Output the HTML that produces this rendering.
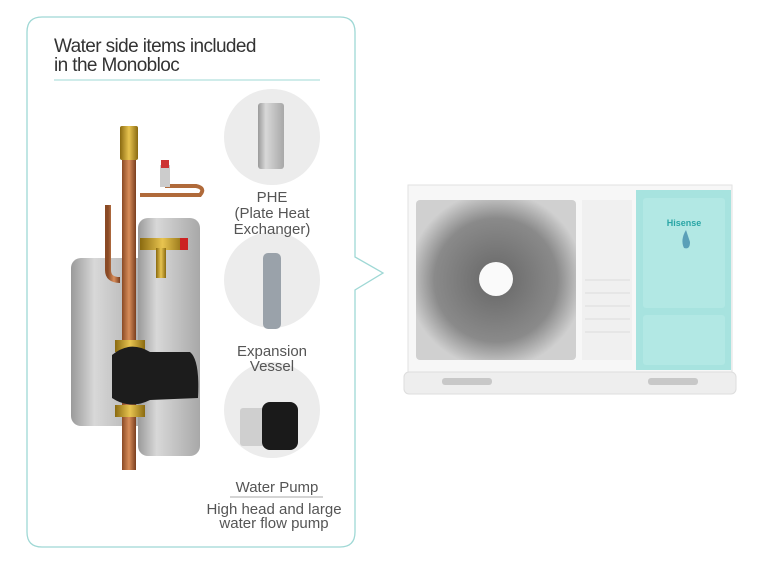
<!DOCTYPE html>
<html><head><style>
html,body{margin:0;padding:0;background:#fff;}
svg{display:block;}
text{font-family:"Liberation Sans",sans-serif;}
</style></head><body>
<svg width="782" height="566" viewBox="0 0 782 566">
<defs>
<linearGradient id="cu" x1="0" x2="1"><stop offset="0" stop-color="#8a4a25"/><stop offset=".5" stop-color="#d88d5a"/><stop offset="1" stop-color="#7a3e1e"/></linearGradient>
<linearGradient id="pl" x1="0" x2="1"><stop offset="0" stop-color="#9a9a9a"/><stop offset=".3" stop-color="#d8d8d8"/><stop offset="1" stop-color="#a8a8a8"/></linearGradient>
<linearGradient id="br" x1="0" x2="1"><stop offset="0" stop-color="#8a6a10"/><stop offset=".5" stop-color="#e8c450"/><stop offset="1" stop-color="#8a6a10"/></linearGradient>
<radialGradient id="fan" cx=".5" cy=".5" r=".55"><stop offset="0" stop-color="#666"/><stop offset=".7" stop-color="#8a8a8a"/><stop offset="1" stop-color="#d0d0d0"/></radialGradient>
</defs>
<path d="M42 17 H340 Q355 17 355 32 V257 L383 273 L355 290 V532 Q355 547 340 547 H42 Q27 547 27 532 V32 Q27 17 42 17 Z" fill="#fff" stroke="#9fd8d5" stroke-width="1.3"/>
<text x="54" y="52" font-size="19" fill="#333" letter-spacing="-0.6">Water side items included</text>
<text x="54" y="71" font-size="19" fill="#333" letter-spacing="-0.6">in the Monobloc</text>
<line x1="54" y1="80" x2="320" y2="80" stroke="#9fd8d5" stroke-width="1"/>
<circle cx="272" cy="137" r="48" fill="#ececec"/>
<rect x="258" y="103" width="26" height="66" rx="3" fill="url(#pl)"/>
<circle cx="272" cy="280" r="48" fill="#ececec"/>
<rect x="263" y="253" width="18" height="76" rx="5" fill="#9aa2aa"/>
<circle cx="272" cy="410" r="48" fill="#ececec"/>
<rect x="240" y="408" width="30" height="38" rx="3" fill="#cfcfcf"/>
<rect x="262" y="402" width="36" height="48" rx="8" fill="#1a1a1a"/>
<text x="272" y="202" font-size="15" fill="#555" text-anchor="middle">PHE</text>
<text x="272" y="218" font-size="15" fill="#555" text-anchor="middle">(Plate Heat</text>
<text x="272" y="234" font-size="15" fill="#555" text-anchor="middle">Exchanger)</text>
<text x="272" y="356" font-size="15" fill="#555" text-anchor="middle">Expansion</text>
<text x="272" y="371" font-size="15" fill="#555" text-anchor="middle">Vessel</text>
<text x="277" y="492" font-size="15" fill="#555" text-anchor="middle">Water Pump</text>
<line x1="230" y1="497" x2="323" y2="497" stroke="#aaa" stroke-width="1"/>
<text x="274" y="514" font-size="15" fill="#555" text-anchor="middle">High head and large</text>
<text x="274" y="528" font-size="15" fill="#555" text-anchor="middle">water flow pump</text>
<rect x="71" y="258" width="78" height="168" rx="10" fill="url(#pl)"/>
<rect x="138" y="218" width="62" height="238" rx="10" fill="url(#pl)"/>
<path d="M108 205 V270 Q108 280 120 280" stroke="url(#cu)" stroke-width="6" fill="none"/>
<path d="M140 195 H200 Q206 188 196 186 H165" stroke="#b06a3a" stroke-width="4" fill="none"/>
<rect x="160" y="165" width="10" height="22" fill="#ccc"/>
<rect x="161" y="160" width="8" height="8" fill="#c33"/>
<rect x="140" y="238" width="45" height="12" fill="url(#br)"/>
<rect x="180" y="238" width="8" height="12" fill="#c22"/>
<rect x="156" y="248" width="10" height="30" fill="url(#br)"/>
<rect x="122" y="155" width="14" height="315" fill="url(#cu)"/>
<rect x="120" y="126" width="18" height="34" rx="2" fill="url(#br)"/>
<rect x="115" y="340" width="30" height="12" fill="url(#br)"/>
<rect x="115" y="405" width="30" height="12" fill="url(#br)"/>
<path d="M112 355 Q130 340 150 352 L190 352 Q200 360 198 398 L150 400 Q130 410 112 398 Z" fill="#1c1c1c"/>
<rect x="408" y="185" width="324" height="188" fill="#f7f7f7" stroke="#e2e2e2"/>
<rect x="416" y="200" width="160" height="160" rx="4" fill="url(#fan)"/>
<circle cx="496" cy="279" r="17" fill="#fafafa"/>
<rect x="582" y="200" width="50" height="160" fill="#f0f0f0"/>
<g stroke="#ddd"><line x1="585" y1="280" x2="630" y2="280"/><line x1="585" y1="293" x2="630" y2="293"/><line x1="585" y1="306" x2="630" y2="306"/><line x1="585" y1="319" x2="630" y2="319"/><line x1="585" y1="332" x2="630" y2="332"/></g>
<rect x="636" y="190" width="95" height="180" fill="#a7e3df"/>
<rect x="643" y="198" width="82" height="110" rx="3" fill="#b2e8e4"/>
<rect x="643" y="315" width="82" height="50" rx="3" fill="#b2e8e4"/>
<text x="684" y="226" font-size="9" font-weight="bold" fill="#2aa6a6" text-anchor="middle">Hisense</text>
<path d="M686 230 Q680 240 684 248 Q690 250 690 242 Z" fill="#5aa0b8"/>
<rect x="404" y="372" width="332" height="22" rx="5" fill="#eeeeee" stroke="#ddd"/>
<rect x="442" y="378" width="50" height="7" rx="3" fill="#c8c8c8"/>
<rect x="648" y="378" width="50" height="7" rx="3" fill="#c8c8c8"/>
</svg>
</body></html>
